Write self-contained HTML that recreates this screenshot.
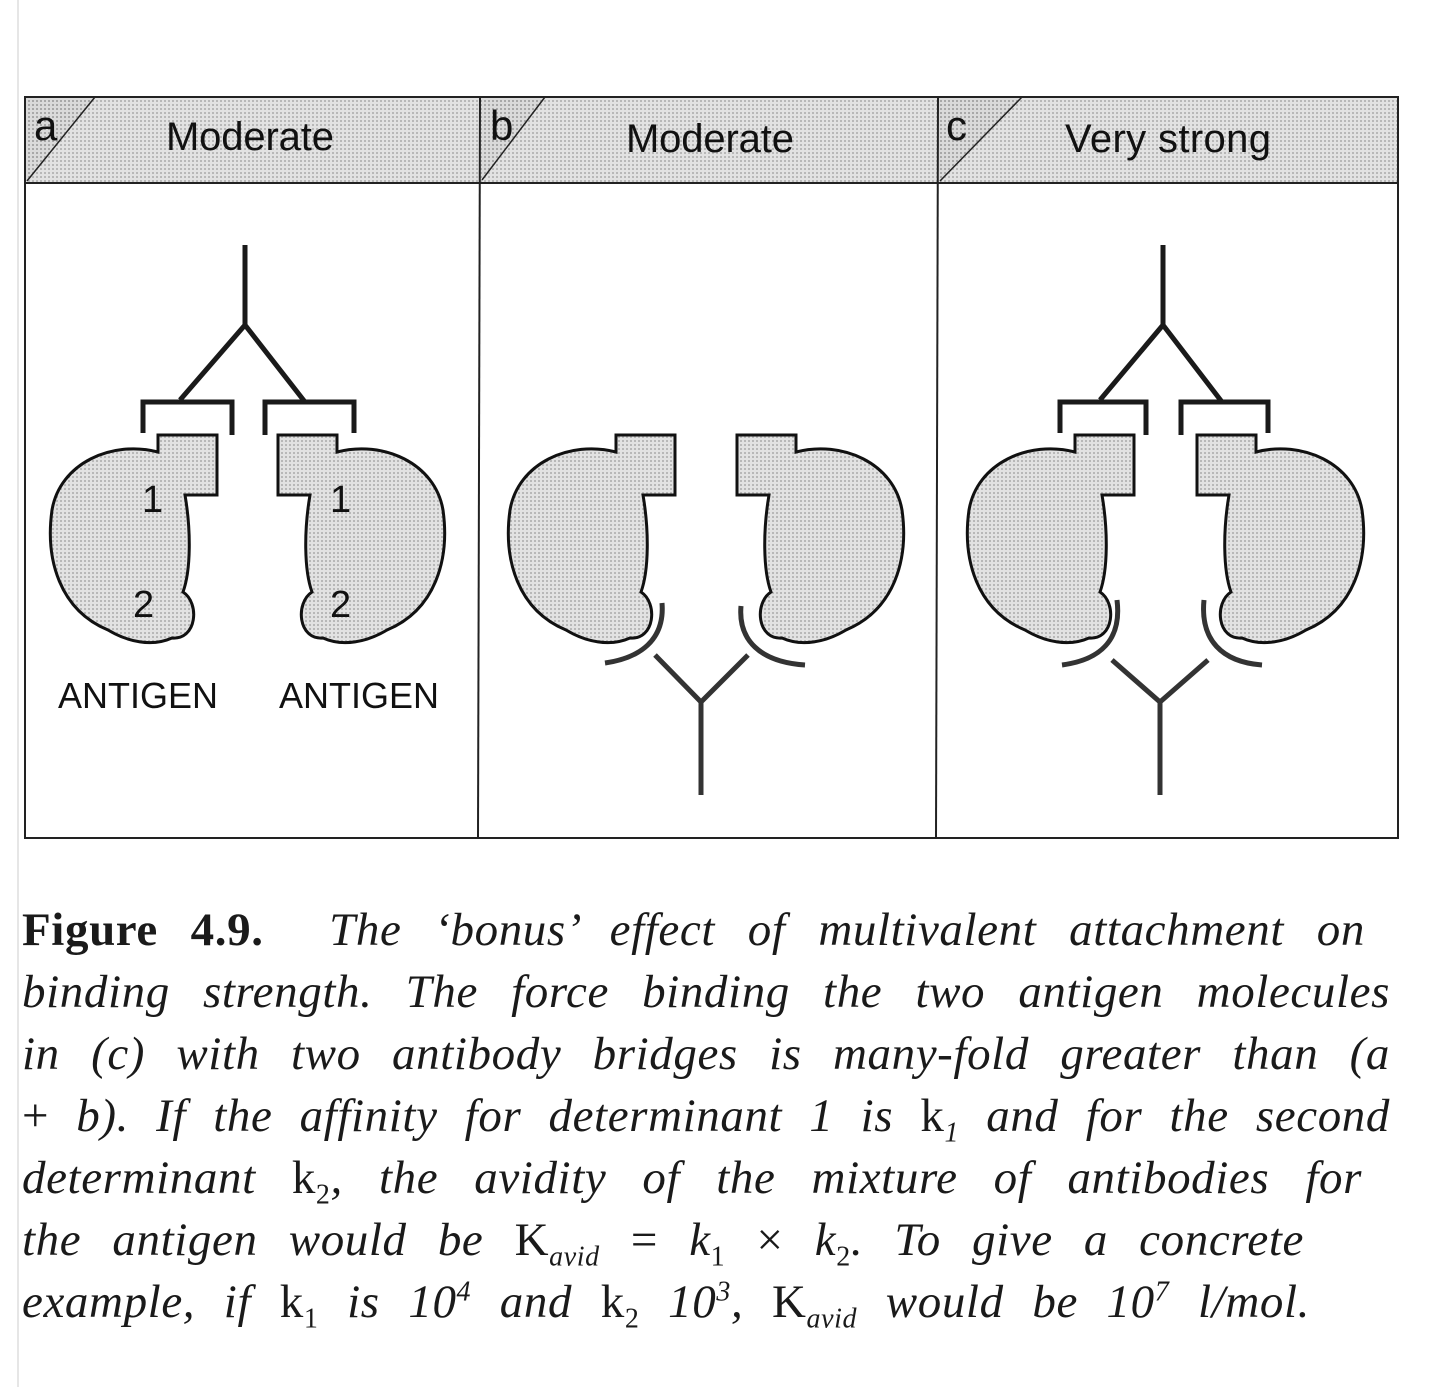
<!DOCTYPE html>
<html><head><meta charset="utf-8"><style>
body{margin:0;background:#fff;}
.wrap{position:relative;width:1434px;height:1387px;overflow:hidden;background:#fff;}
svg{position:absolute;left:0;top:0;}
.cap{position:absolute;left:22px;font-family:"Liberation Serif",serif;font-style:italic;font-size:47px;letter-spacing:0.6px;color:#1a1a1a;white-space:nowrap;text-align:justify;text-align-last:justify;line-height:50px;}
.cap b{font-style:normal;font-weight:bold;}
.up{font-style:normal;}
sub,sup{font-size:28px;line-height:0;}
</style></head><body><div class="wrap">
<svg width="1434" height="1387" viewBox="0 0 1434 1387">
<defs>
<pattern id="dots" width="4" height="4" patternUnits="userSpaceOnUse"><rect width="4" height="4" fill="#e2e2e2"/><rect width="2" height="2" fill="#b8b8b8"/></pattern>
<pattern id="dots2" width="4" height="4" patternUnits="userSpaceOnUse"><rect width="4" height="4" fill="#dadada"/><rect width="2" height="2" fill="#a8a8a8"/></pattern>
<path id="ag" d="M158,452 L158,435 L217,435 L217,495 L185,495 C191,530 191,570 183,592 C200,603 197,640 172,638 C152,647 128,642 108,630 C60,610 45,560 52,510 C60,463 112,440 158,452 Z" fill="url(#dots)" stroke="#111" stroke-width="3"/>
</defs>
<rect x="25" y="97" width="1373" height="86" fill="url(#dots)"/>
<polygon points="25,97 95,97 25,183" fill="url(#dots2)"/>
<polygon points="481,97 545,97 481,180" fill="url(#dots2)"/>
<polygon points="939,97 1022,97 939,183" fill="url(#dots2)"/>
<g stroke="#222" stroke-width="2" fill="none">
<rect x="25" y="97" width="1373" height="741"/>
<line x1="25" y1="183" x2="1398" y2="183"/>
<line x1="480" y1="97" x2="478" y2="838"/>
<line x1="938" y1="97" x2="936" y2="838"/>
<line x1="95" y1="97" x2="27" y2="181" stroke-width="1.5"/>
<line x1="545" y1="97" x2="482" y2="180" stroke-width="1.5"/>
<line x1="1022" y1="97" x2="940" y2="181" stroke-width="1.5"/>
</g>
<line x1="18" y1="0" x2="18" y2="1387" stroke="#ccc" stroke-width="1"/>
<g font-family="Liberation Sans,sans-serif" fill="#111">
<text x="34" y="140" font-size="42">a</text>
<text x="490" y="140" font-size="42">b</text>
<text x="946" y="140" font-size="42">c</text>
<text x="250" y="150" font-size="40" text-anchor="middle" textLength="168">Moderate</text>
<text x="710" y="152" font-size="40" text-anchor="middle" textLength="168">Moderate</text>
<text x="1168" y="152" font-size="40" text-anchor="middle" textLength="206">Very strong</text>
</g>
<use href="#ag"/>
<use href="#ag" transform="matrix(-1,0,0,1,495,0)"/>
<use href="#ag" transform="translate(458,0)"/>
<use href="#ag" transform="matrix(-1,0,0,1,954,0)"/>
<use href="#ag" transform="translate(917,0)"/>
<use href="#ag" transform="matrix(-1,0,0,1,1414,0)"/>
<g font-family="Liberation Sans,sans-serif" fill="#111" font-size="38">
<text x="142" y="512">1</text><text x="330" y="512">1</text>
<text x="133" y="617">2</text><text x="330" y="617">2</text>
<text x="58" y="708" font-size="36">ANTIGEN</text>
<text x="279" y="708" font-size="36">ANTIGEN</text>
</g>
<g stroke="#1a1a1a" stroke-width="5" fill="none">
<path d="M245,245 V325 M245,325 L180,400 M245,325 L305,402"/>
<path d="M143,433 V402 H232 V435 M265,435 V402 H354 V433"/>
<path d="M1163,245 V325 M1163,325 L1100,400 M1163,325 L1222,402"/>
<path d="M1060,433 V402 H1146 V435 M1181,435 V402 H1268 V433"/>
</g>
<g stroke="#333" stroke-width="5" fill="none">
<path d="M701,795 V702 M701,702 L655,655 M701,702 L748,655"/>
<path d="M605,663 C640,658 665,640 662,603 M741,606 C738,640 760,662 805,665"/>
<path d="M1160,795 V702 M1160,702 L1112,660 M1160,702 L1208,660"/>
<path d="M1062,665 C1100,660 1122,640 1117,600 M1204,600 C1200,640 1222,662 1262,665"/>
</g>
</svg>
<div class="cap" style="top:905px;width:1343px;"><b>Figure 4.9.</b>&nbsp; The ‘bonus’ effect of multivalent attachment on</div>
<div class="cap" style="top:967px;width:1368px;">binding strength. The force binding the two antigen molecules</div>
<div class="cap" style="top:1029px;width:1368px;">in (c) with two antibody bridges is many-fold greater than (a</div>
<div class="cap" style="top:1091px;width:1368px;"><span class="up">+</span> b). If the affinity for determinant 1 is <span class="up">k</span><sub>1</sub> and for the second</div>
<div class="cap" style="top:1153px;width:1340px;">determinant <span class="up">k</span><sub class="up">2</sub>, the avidity of the mixture of antibodies for</div>
<div class="cap" style="top:1215px;width:1282px;">the antigen would be <span class="up">K</span><sub>avid</sub> <span class="up">=</span> k<sub class="up">1</sub> <span class="up">×</span> k<sub class="up">2</sub>. To give a concrete</div>
<div class="cap" style="top:1277px;width:1288px;">example, if <span class="up">k</span><sub class="up">1</sub> is 10<sup>4</sup> and <span class="up">k</span><sub class="up">2</sub> 10<sup>3</sup>, <span class="up">K</span><sub>avid</sub> would be 10<sup>7</sup> l/mol.</div>
</div></body></html>
